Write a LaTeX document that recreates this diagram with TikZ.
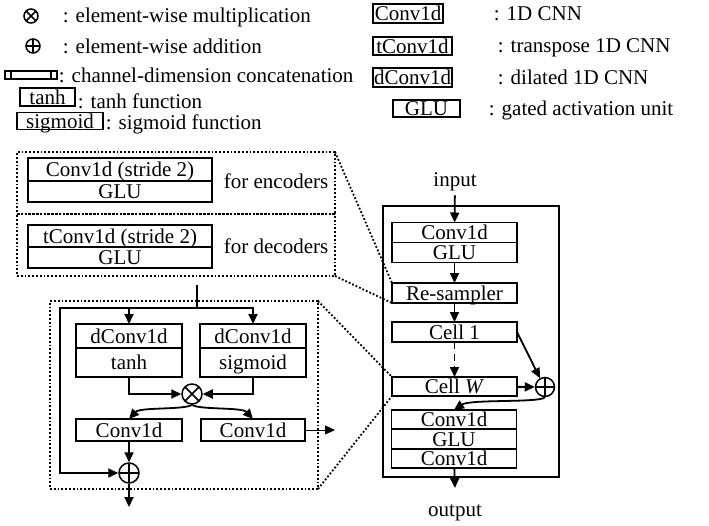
\documentclass[tikz,border=0pt]{standalone}
\usepackage{fontspec}
\setmainfont{Liberation Serif}
\usetikzlibrary{arrows.meta,positioning}

\begin{document}
\begin{tikzpicture}[%
    x=1pt, y=-1pt,
    font=\fontsize{21}{24}\selectfont,
    line width=1.8pt,
    blk/.style={
        draw,
        rectangle,
        inner sep=0pt,
        outer sep=0pt,
        text height=14pt,
        text depth=0pt,
        minimum height=19pt,
        minimum width=#1},
    blk/.default=125,
    opcirc/.style={draw, circle, inner sep=0pt, minimum size=#1, line width=1.5pt},
    mulop/.style={%
        opcirc=#1,
        path picture={\draw[line width=1.5pt]
            (path picture bounding box.north west) -- (path picture bounding box.south east)
            (path picture bounding box.south west) -- (path picture bounding box.north east);}},
    addop/.style={%
        opcirc=#1,
        path picture={\draw[line width=1.5pt]
            (path picture bounding box.north) -- (path picture bounding box.south)
            (path picture bounding box.west) -- (path picture bounding box.east);}},
    catop/.style={%
        draw, rectangle, inner sep=0pt, minimum width=52, minimum height=8, line width=1.5pt,
        path picture={\draw[line width=1.5pt]
            ([xshift=6pt]path picture bounding box.north west) -- ([xshift=6pt]path picture bounding box.south west)
            ([xshift=-6pt]path picture bounding box.north east) -- ([xshift=-6pt]path picture bounding box.south east);}},
    lbl/.style={anchor=base west, inner sep=0pt},
    zoombox/.style={draw, dotted, inner sep=0pt, outer sep=0pt},
    zoomline/.style={dotted},
    arr/.style={-{Triangle[length=10pt, width=9pt]}},
]

\useasboundingbox (0,0) rectangle (709,525);

% legend, left column
\node[mulop=14] (mulsym) at (31,16) {};
\node[lbl] (multxt) at (62,22) {: element-wise multiplication};
\node[addop=14] (addsym) at (33,46) {};
\node[lbl] (addtxt) at (62,53) {: element-wise addition};
\node[catop] (catsym) at (31,75) {};
\node[lbl] (cattxt) at (58,82) {: channel-dimension concatenation};
\node[blk=55, minimum height=18] (tanhsym) at (47.5,97) {tanh};
\node[lbl] (tanhtxt) at (77,108) {: tanh function};
\node[blk=86, minimum height=17] (sigsym) at (60,121) {sigmoid};
\node[lbl] (sigtxt) at (105,129) {: sigmoid function};

% legend, right column
\node[blk=70] (convsym) at (408,13.5) {Conv1d};
\node[lbl] (convtxt) at (493,20) {: 1D CNN};
\node[blk=79, minimum height=18] (tconvsym) at (412.5,46) {tConv1d};
\node[lbl] (tconvtxt) at (497,52) {: transpose 1D CNN};
\node[blk=79] (dconvsym) at (412.5,77.5) {dConv1d};
\node[lbl] (dconvtxt) at (497,84) {: dilated 1D CNN};
\node[blk=67, minimum height=17] (glusym) at (426.5,108.5) {GLU};
\node[lbl] (glutxt) at (488,115) {: gated activation unit};

% re-sampler detail
\node[zoombox, minimum width=318, minimum height=62] (encbox) at (176,183) {};
\node[zoombox, minimum width=318, minimum height=62, below=0pt of encbox] (decbox) {};
\node[blk=184, minimum height=23] (encconv) at (120,169.5) {Conv1d (stride 2)};
\node[blk=184, minimum height=21, below=0pt of encconv] (encglu) {GLU};
\node[lbl] (enctxt) at (223,188) {for encoders};
\node[blk=184, minimum height=22] (decconv) at (120,236) {tConv1d (stride 2)};
\node[blk=184, minimum height=21, below=0pt of decconv] (decglu) {GLU};
\node[lbl] (dectxt) at (223,253) {for decoders};

% main block
\node[draw, inner sep=0pt, outer sep=0pt, minimum width=176, minimum height=271] (mainbox) at (471,341.5) {};
\node (input) at (455,182) {input};
\node[blk, minimum height=20] (inconv) at (454.5,232.5) {Conv1d};
\node[blk, minimum height=20, below=0pt of inconv] (inglu) {GLU};
\node[blk, minimum height=20] (resamp) at (454.5,293) {Re-sampler};
\node[blk, minimum height=20] (cellone) at (454.5,332) {Cell 1};
\node[blk] (cellw) at (454.5,386.5) {Cell \textit{W}};
\node[addop=19] (addout) at (545,387) {};
\node[blk] (outconv) at (454,419.5) {Conv1d};
\node[blk, minimum height=20, below=0pt of outconv] (outglu) {GLU};
\node[blk, below=0pt of outglu] (outconvb) {Conv1d};
\coordinate (outend) at (455,488);
\node (output) at (455,513) {output};

\draw[arr] (input) -- (inconv);
\draw[arr] (inglu) -- (resamp);
\draw[arr] (resamp) -- (cellone);
\draw[arr, dash pattern=on 7pt off 5pt] (cellone) -- (cellw);
\draw[arr] (cellone.east) -- (addout.120);
\draw[arr] (cellw) -- (addout);
\draw[arr] (addout.south) .. controls (540,403) and (470,399) .. (outconv.north);
\draw[arr] (outconvb) -- (outend);

% cell detail
\node[zoombox, minimum width=268, minimum height=188] (cellbox) at (184,395) {};
\coordinate (cin) at (197,285);
\coordinate (split) at (197,308);
\coordinate (skip) at (60,308);
\node[blk=106, minimum height=24] (tdconv) at (129,336) {dConv1d};
\node[blk=106, minimum height=29, below=0pt of tdconv] (tanhbox) {tanh};
\node[blk=106, minimum height=24] (sdconv) at (253,336) {dConv1d};
\node[blk=106, minimum height=29, below=0pt of sdconv] (sigbox) {sigmoid};
\node[mulop=20] (mul) at (192,394) {};
\node[blk=106, minimum height=22] (lconv) at (129,430) {Conv1d};
\node[blk=104, minimum height=22] (rconv) at (253,430) {Conv1d};
\node[addop=20] (add) at (129,473) {};
\coordinate (rout) at (335,430);
\coordinate (addend) at (129,507);

\draw (cin) -- (split);
\draw[arr] (split) -| (tdconv);
\draw[arr] (split) -| (sdconv);
\draw[arr] (split) -- (skip) |- (add);
\draw[arr] (tanhbox) |- (mul);
\draw[arr] (sigbox) |- (mul);
\draw[arr] (mul.south) .. controls (185,410) and (140,407) .. (lconv.north);
\draw[arr] (mul.south) .. controls (199,410) and (242,407) .. (rconv.north);
\draw[arr, line width=0.8pt] (rconv) -- (rout);
\draw[arr] (lconv) -- (add);
\draw[arr] (add) -- (addend);

% zoom lines
\draw[zoomline] (encbox.north east) -- (resamp.north west);
\draw[zoomline] (decbox.south east) -- (resamp.south west);
\draw[zoomline] (cellbox.north east) -- (cellw.north west);
\draw[zoomline] (cellbox.south east) -- (cellw.south west);
\end{tikzpicture}
\end{document}
